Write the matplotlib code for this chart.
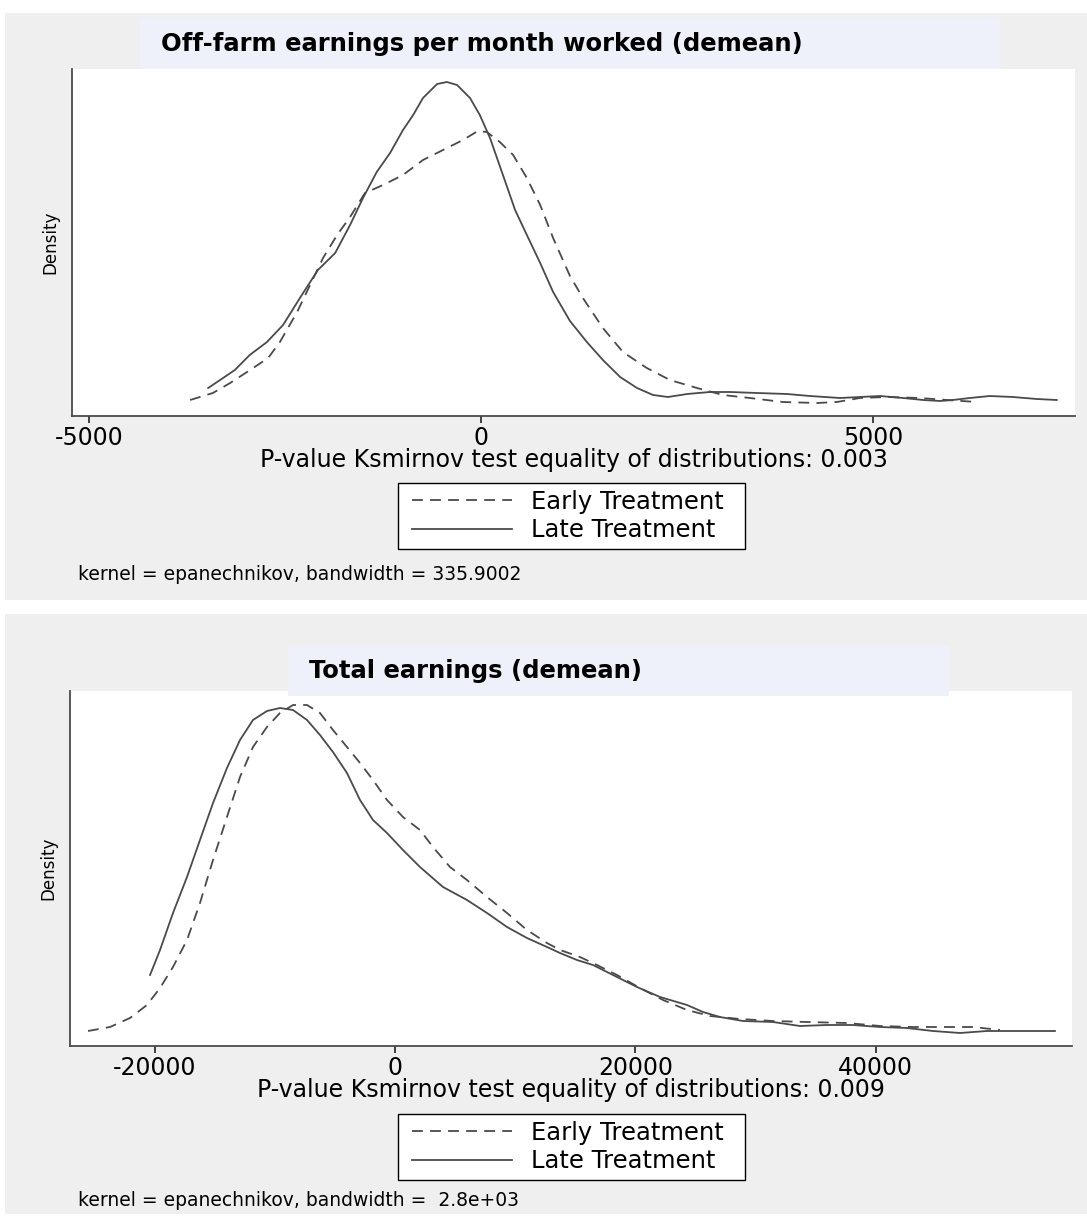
import matplotlib
matplotlib.use("Agg")
import matplotlib.pyplot as plt
from matplotlib.lines import Line2D
from matplotlib.patches import Rectangle

# %%
# Off-farm earnings per month worked (demean); density values in units of 1e-6
off_early_x = [-3710, -3420, -3200, -2945, -2715, -2565, -2345, -2180, -2015, -1835,
               -1670, -1480, -1250, -995, -740, -485, -230, -40, 75, 240,
               410, 585, 755, 920, 1135, 1300, 1555, 1810, 2115, 2410,
               2755, 3085, 3430, 3850, 4285, 4540, 4835, 5180, 5600, 5945, 6325]
off_early_y = [16, 23, 33, 46, 58, 74, 104, 131, 158, 181,
               199, 223, 231, 241, 256, 266, 276, 285, 284, 274,
               261, 238, 211, 178, 140, 118, 88, 64, 48, 36,
               28, 21, 18, 14, 13, 14, 18, 19, 18, 16, 14]
off_late_x = [-3480, -3290, -3140, -2950, -2730, -2525, -2310, -2080, -1860, -1670,
              -1505, -1330, -1160, -995, -865, -740, -560, -435, -305, -140,
              -15, 115, 280, 435, 585, 755, 920, 1135, 1350, 1555,
              1775, 1990, 2195, 2385, 2630, 2920, 3175, 3520, 3905, 4195,
              4580, 4835, 5090, 5385, 5640, 5855, 6020, 6235, 6490, 6785, 7090, 7345]
off_late_y = [28, 38, 46, 61, 74, 91, 118, 146, 163, 191,
              218, 244, 263, 286, 301, 318, 332, 334, 331, 318,
              301, 278, 241, 206, 181, 153, 124, 95, 74, 56,
              39, 28, 21, 19, 22, 24, 24, 23, 22, 20,
              18, 19, 20, 18, 16, 15, 16, 18, 20, 19, 17, 16]

# Total earnings (demean); density values in units of 1e-7
tot_early_x = [-25540, -23710, -22050, -20635, -19550, -18470, -17305, -16225, -15140, -13980,
               -12895, -11815, -10650, -9570, -8485, -7320, -6240, -5160, -3995, -2910,
               -1830, -665, 665, 2080, 3160, 4575, 5990, 7655, 9320, 10980,
               12645, 13730, 15390, 16805, 18470, 20385, 22300, 24295, 26210, 28705,
               31450, 34280, 37605, 40350, 43100, 45925, 48090, 50335]
tot_early_y = [15, 19, 28, 41, 58, 79, 106, 143, 186, 229,
               269, 299, 319, 333, 341, 341, 333, 316, 299, 283,
               266, 246, 229, 216, 199, 179, 166, 149, 133, 116,
               103, 96, 89, 81, 71, 58, 46, 36, 30, 27,
               25, 24, 23, 20, 19, 19, 19, 16]
tot_late_x = [-20380, -19550, -18470, -17305, -16225, -15140, -13980, -12895, -11815, -10650,
              -9570, -8485, -7320, -6240, -5160, -3995, -2910, -1830, -665, 665,
              2080, 3995, 5990, 7655, 9320, 10980, 12645, 13730, 15140, 16475,
              18140, 20135, 22050, 24295, 25625, 27040, 28955, 31450, 33695, 35940,
              38105, 40350, 42600, 44760, 47010, 49255, 50920, 53080, 54910]
tot_late_y = [71, 96, 133, 169, 206, 243, 278, 306, 326, 335,
              338, 336, 326, 311, 294, 273, 246, 226, 213, 196,
              179, 159, 146, 133, 119, 108, 99, 93, 86, 81,
              71, 59, 49, 41, 34, 29, 25, 24, 20, 21,
              21, 19, 18, 15, 13, 15, 15, 15, 15]

titles = ["Off-farm earnings per month worked (demean)", "Total earnings (demean)"]
pvalues = ["0.003", "0.009"]
bandwidths = ["335.9002", " 2.8e+03"]
ticks = [[-5000, 0, 5000], [-20000, 0, 20000, 40000]]
labels = ["Early Treatment", "Late Treatment"]

# %%
W, H = 1087, 1224
GREY = "#efefef"
TITLE_BG = "#eef1f9"
INK = "#4a4a4a"

plt.rcParams["font.family"] = ["DejaVu Sans"]
fig = plt.figure(figsize=(W / 100, H / 100), dpi=100, facecolor="white")


def fx(px):
    return px / W


def fy(py):
    return 1 - py / H


def box(x0, y0, x1, y1, face, z, edge="none", lw=0):
    fig.add_artist(Rectangle((fx(x0), fy(y1)), (x1 - x0) / W, (y1 - y0) / H,
                             transform=fig.transFigure, facecolor=face,
                             edgecolor=edge, linewidth=lw, zorder=z))


def panel(grey, title_box, axes_box, legend_box, note_y, xlim, ylim,
          early, late, xticks, title, pval, bw):
    box(5, grey[0], W, grey[1], GREY, -5)
    box(*title_box, TITLE_BG, 2)
    fig.text(fx(title_box[0] + 21), fy((title_box[1] + title_box[3]) / 2), title,
             fontsize=17.5, fontweight="bold", va="center", ha="left", zorder=3)

    x0, y0, x1, y1 = axes_box
    ax = fig.add_axes([fx(x0), fy(y1), (x1 - x0) / W, (y1 - y0) / H])
    ax.set_facecolor("white")
    ax.plot(early[0], early[1], color=INK, lw=1.3, dashes=(6, 4))
    ax.plot(late[0], late[1], color=INK, lw=1.3)
    ax.set_xlim(*xlim)
    ax.set_ylim(*ylim)
    ax.set_xticks(xticks)
    ax.set_xticklabels([str(t) for t in xticks])
    ax.set_yticks([])
    for s in ["top", "right"]:
        ax.spines[s].set_visible(False)
    for s in ["left", "bottom"]:
        ax.spines[s].set_color(INK)
        ax.spines[s].set_linewidth(1.3)
    ax.tick_params(axis="x", length=5, width=1.2, color="#222222", labelsize=17, pad=2)
    ax.set_xlabel("P-value Ksmirnov test equality of distributions: " + pval,
                  fontsize=17, labelpad=-1)
    ax.set_ylabel("Density", fontsize=12, labelpad=9)

    # legend frame drawn separately so its size matches the original
    lx0, ly0, lx1, ly1 = legend_box
    box(lx0, ly0, lx1, ly1, "white", 1, edge="black", lw=1.0)
    handles = [Line2D([], [], color=INK, lw=1.3, dashes=(6, 4)),
               Line2D([], [], color=INK, lw=1.3)]
    leg = fig.legend(handles, labels, loc="center left", fontsize=17.5,
                     bbox_to_anchor=(fx(lx0 + 14), fy((ly0 + ly1) / 2)),
                     bbox_transform=fig.transFigure, frameon=False,
                     handlelength=4.1, handletextpad=0.78, labelspacing=0.2,
                     borderpad=0, borderaxespad=0)
    leg.set_zorder(4)

    fig.text(fx(78), fy(note_y), "kernel = epanechnikov, bandwidth = " + bw,
             fontsize=13.5, va="center", ha="left")
    return ax


panel((13, 600), (140, 18, 1000, 69), (72, 69, 1075, 416), (398, 483, 745, 549), 575,
      (-5217, 7577), (0, 347), (off_early_x, off_early_y), (off_late_x, off_late_y),
      ticks[0], titles[0], pvalues[0], bandwidths[0])
panel((614, 1214), (288, 646, 949, 696), (70, 691, 1072, 1046), (398, 1114, 745, 1180), 1200,
      (-27040, 56330), (0, 355), (tot_early_x, tot_early_y), (tot_late_x, tot_late_y),
      ticks[1], titles[1], pvalues[1], bandwidths[1])

fig.savefig("out.png", dpi=100, facecolor="white")
